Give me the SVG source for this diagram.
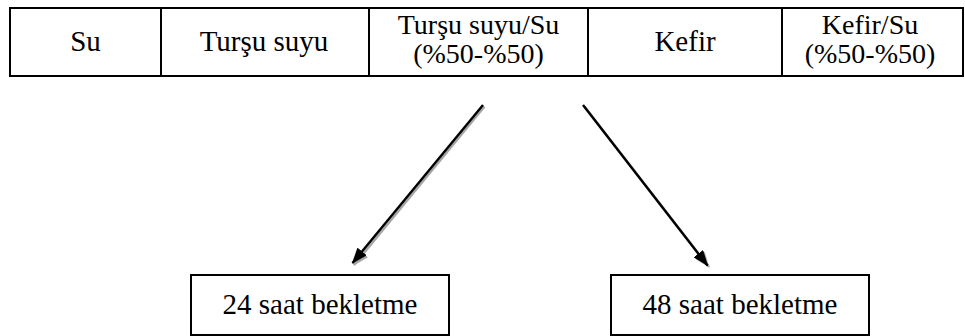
<svg xmlns="http://www.w3.org/2000/svg" width="965" height="336" viewBox="0 0 965 336">
  <style>
    .lbl { font-family: "Liberation Serif", "Times New Roman", serif; font-size: 28px; fill: #000; text-anchor: middle; }
    .big { font-size: 29px; }
    .cell { fill: #fff; stroke: #000; stroke-width: 2; }
    .box { fill: #fff; stroke: #000; stroke-width: 2; }
    .arrow { stroke: #000; stroke-width: 2.4; fill: none; marker-end: url(#head); }
    .shadow { stroke: #a6a6a6; stroke-width: 2.4; fill: none; marker-end: url(#headShadow); }
  </style>
  <defs>
    <marker id="head" viewBox="0 0 16 12" refX="15" refY="6" markerWidth="16" markerHeight="12" markerUnits="userSpaceOnUse" orient="auto">
      <path d="M0,0 L16,6 L0,12 Z" fill="#000"/>
    </marker>
    <marker id="headShadow" viewBox="0 0 16 12" refX="15" refY="6" markerWidth="16" markerHeight="12" markerUnits="userSpaceOnUse" orient="auto">
      <path d="M0,0 L16,6 L0,12 Z" fill="#a6a6a6"/>
    </marker>
  </defs>

  <!-- table header row -->
  <g id="table">
    <g id="cell-su">
      <rect class="cell" x="10" y="8" width="151" height="68"/>
      <text class="lbl big" font-family="Liberation Serif" x="85.5" y="51">Su</text>
    </g>
    <g id="cell-tursu">
      <rect class="cell" x="161" y="8" width="208" height="68"/>
      <text class="lbl big" font-family="Liberation Serif" x="264" y="51">Turşu suyu</text>
    </g>
    <g id="cell-tursu-su">
      <rect class="cell" x="369" y="8" width="219" height="68"/>
      <text class="lbl" font-family="Liberation Serif" x="478.5" y="34">Turşu suyu/Su</text>
      <text class="lbl" font-family="Liberation Serif" x="478.5" y="63">(%50-%50)</text>
    </g>
    <g id="cell-kefir">
      <rect class="cell" x="588" y="8" width="194" height="68"/>
      <text class="lbl big" font-family="Liberation Serif" x="685" y="51">Kefir</text>
    </g>
    <g id="cell-kefir-su">
      <rect class="cell" x="782" y="8" width="181" height="68"/>
      <text class="lbl" font-family="Liberation Serif" x="870" y="34">Kefir/Su</text>
      <text class="lbl" font-family="Liberation Serif" x="870" y="63">(%50-%50)</text>
    </g>
  </g>

  <!-- connectors with drop shadow -->
  <g id="connectors">
    <line class="shadow" x1="484.5" y1="106.5" x2="354" y2="265"/>
    <line class="shadow" x1="584.5" y1="106.5" x2="709" y2="267"/>
    <line class="arrow" x1="483" y1="105" x2="352.5" y2="263"/>
    <line class="arrow" x1="583" y1="105" x2="707.5" y2="265.5"/>
  </g>

  <g id="node-24">
    <rect class="box" x="191" y="275" width="258" height="60"/>
    <text class="lbl big" font-family="Liberation Serif" x="320" y="314">24 saat bekletme</text>
  </g>
  <g id="node-48">
    <rect class="box" x="611" y="275" width="258" height="60"/>
    <text class="lbl big" font-family="Liberation Serif" x="740" y="314">48 saat bekletme</text>
  </g>
</svg>
